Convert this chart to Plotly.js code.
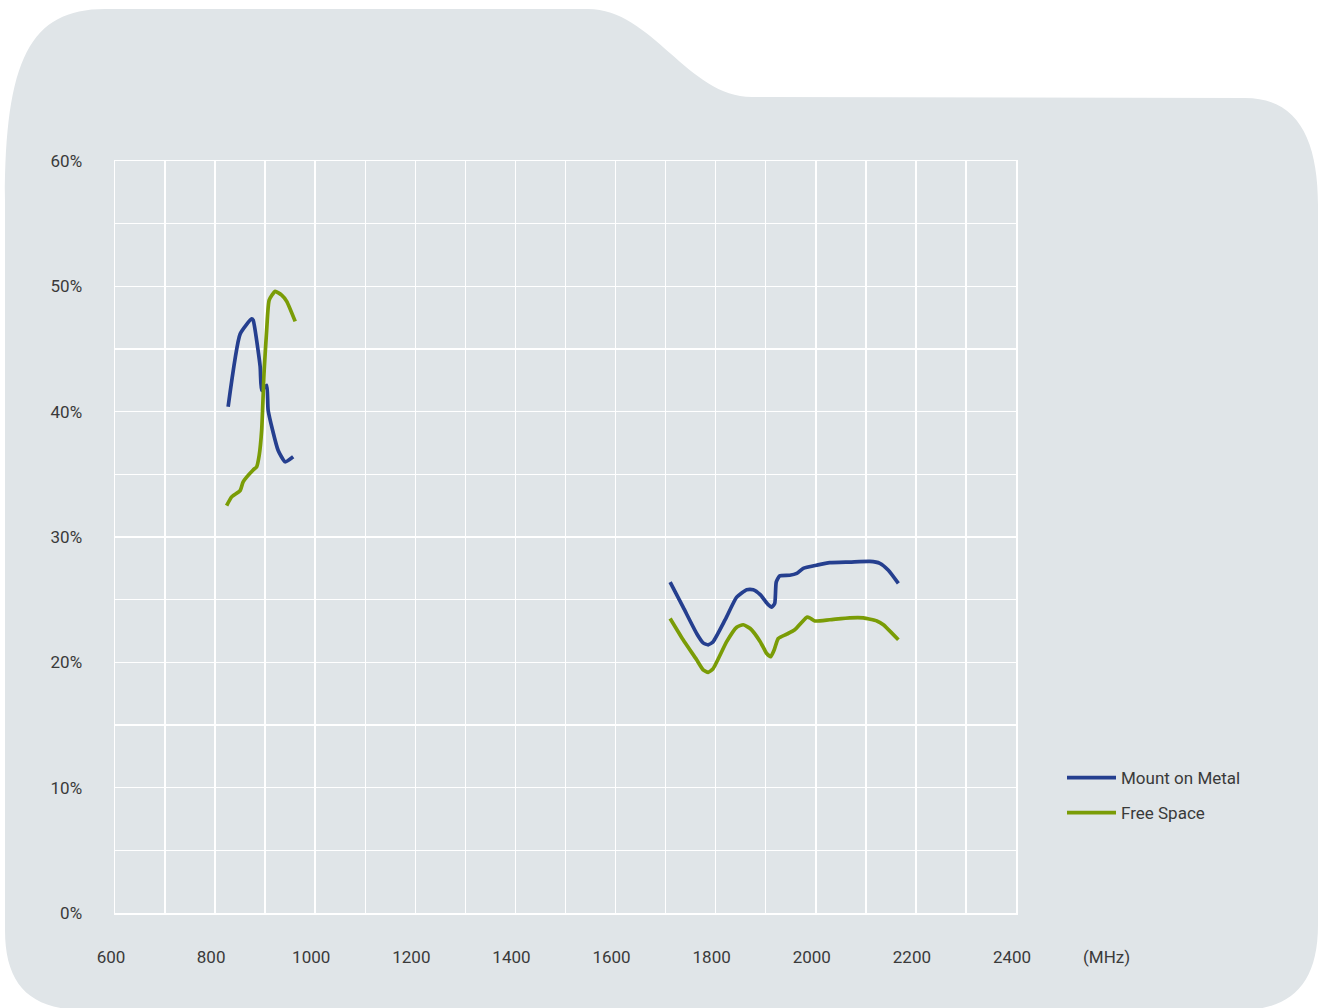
<!DOCTYPE html>
<html>
<head>
<meta charset="utf-8">
<script src="https://cdn.plot.ly/plotly-3.0.1.min.js"></script>
<style>
  html, body { margin: 0; padding: 0; background: #ffffff; }
  #chart { width: 1320px; height: 1008px; }
</style>
</head>
<body>
<div id="chart"></div>
<script>
// ---- Data (frequency in MHz, efficiency in %) ----
const metalLowFreq = [826, 850, 873, 876, 890, 893, 903, 906, 926, 940, 956];
const metalLowEff  = [40.4, 46.2, 47.4, 47.3, 43.6, 41.7, 42.1, 40.1, 36.9, 36.0, 36.4];

const metalHighFreq = [1709, 1735, 1762, 1775, 1785, 1795, 1819, 1842, 1862, 1875, 1889, 1905, 1912, 1918, 1921, 1928, 1948, 1962, 1975, 2002, 2028, 2068, 2108, 2128, 2145, 2165];
const metalHighEff  = [26.4, 24.4, 22.3, 21.55, 21.4, 21.65, 23.4, 25.2, 25.8, 25.8, 25.4, 24.6, 24.4, 24.7, 26.4, 26.9, 26.95, 27.1, 27.5, 27.75, 27.95, 28.0, 28.05, 27.9, 27.35, 26.3];

const freeLowFreq = [823, 833, 850, 856, 876, 883, 888, 893, 898, 903, 908, 920, 933, 943, 960];
const freeLowEff  = [32.5, 33.2, 33.7, 34.4, 35.35, 35.6, 36.5, 38.5, 43.3, 46.5, 48.9, 49.6, 49.3, 48.8, 47.2];

const freeHighFreq = [1709, 1735, 1762, 1775, 1785, 1795, 1822, 1842, 1855, 1869, 1889, 1902, 1910, 1917, 1925, 1942, 1958, 1972, 1982, 1988, 1998, 2028, 2068, 2095, 2122, 2135, 2165];
const freeHighEff  = [23.5, 21.8, 20.2, 19.4, 19.2, 19.5, 21.65, 22.8, 23.0, 22.7, 21.65, 20.7, 20.45, 21.0, 21.9, 22.25, 22.6, 23.2, 23.6, 23.55, 23.3, 23.4, 23.55, 23.55, 23.3, 23.0, 21.8];

const seriesNames = ["Mount on Metal", "Free Space"];
const xTickVals = [600, 800, 1000, 1200, 1400, 1600, 1800, 2000, 2200, 2400];
const xTickText = ["600", "800", "1000", "1200", "1400", "1600", "1800", "2000", "2200", "2400"];
const yTickVals = [0, 10, 20, 30, 40, 50, 60];
const yTickText = ["0%", "10%", "20%", "30%", "40%", "50%", "60%"];
const xUnitLabel = "(MHz)";

// ---- Chart ----
const W = 1320, H = 1008;
const M = { l: 115, r: 304, t: 161, b: 95 };
const PW = W - M.l - M.r, PH = H - M.t - M.b;
function P(px, py) {
  return ((px - M.l) / PW).toFixed(5) + "," + ((H - M.b - py) / PH).toFixed(5);
}
// folder-like background panel (decorative)
const bgPath =
  "M " + P(5, 200) +
  " C " + P(5, 60) + " " + P(30, 9) + " " + P(105, 9) +
  " L " + P(588, 9) +
  " C " + P(652, 9) + " " + P(688, 97) + " " + P(752, 97) +
  " L " + P(1245, 98) +
  " C " + P(1298, 98) + " " + P(1318, 140) + " " + P(1318, 205) +
  " L " + P(1318, 925) +
  " C " + P(1318, 985) + " " + P(1290, 1010) + " " + P(1240, 1010) +
  " L " + P(85, 1010) +
  " C " + P(30, 1010) + " " + P(5, 985) + " " + P(5, 930) + " Z";

const blue = "#253f8f", green = "#7a9c06";
function joinBands(a, b) { return a.concat([null], b); }

const traces = [
  {
    x: joinBands(metalLowFreq, metalHighFreq),
    y: joinBands(metalLowEff, metalHighEff),
    name: seriesNames[0], legendgroup: "a",
    mode: "lines", connectgaps: false,
    line: { color: blue, width: 3.7, shape: "spline", smoothing: 0.5 }
  },
  {
    x: joinBands(freeLowFreq, freeHighFreq),
    y: joinBands(freeLowEff, freeHighEff),
    name: seriesNames[1], legendgroup: "b",
    mode: "lines", connectgaps: false,
    line: { color: green, width: 3.7, shape: "spline", smoothing: 0.5 }
  }
];

const font = { family: "Roboto, 'DejaVu Sans', sans-serif", size: 17, color: "#3a3a3a" };

const layout = {
  width: W, height: H,
  margin: M,
  paper_bgcolor: "#ffffff",
  plot_bgcolor: "rgba(0,0,0,0)",
  font: font,
  showlegend: true,
  legend: {
    x: (1062 - M.l) / PW, y: (H - M.b - 760) / PH,
    xanchor: "left", yanchor: "top",
    bgcolor: "rgba(0,0,0,0)",
    font: font,
    itemwidth: 49,
    traceorder: "grouped", tracegroupgap: 10
  },
  xaxis: {
    range: [600, 2400],
    tickvals: xTickVals, ticktext: xTickText,
    ticks: "outside", ticklen: 28, tickcolor: "rgba(0,0,0,0)",
    ticklabelshift: -4,
    showgrid: true, gridcolor: "#ffffff", gridwidth: 1.5,
    minor: { dtick: 100, showgrid: true, gridcolor: "#ffffff", gridwidth: 1.5 },
    showline: true, linecolor: "#ffffff", linewidth: 1.5, mirror: true,
    zeroline: false, fixedrange: true,
    tickfont: font
  },
  yaxis: {
    range: [0, 60],
    tickvals: yTickVals, ticktext: yTickText,
    ticks: "outside", ticklen: 28, tickcolor: "rgba(0,0,0,0)",
    showgrid: true, gridcolor: "#ffffff", gridwidth: 1.5,
    minor: { dtick: 5, showgrid: true, gridcolor: "#ffffff", gridwidth: 1.5 },
    showline: true, linecolor: "#ffffff", linewidth: 1.5, mirror: true,
    zeroline: false, fixedrange: true,
    tickfont: font
  },
  shapes: [{
    type: "path", xref: "paper", yref: "paper", layer: "below",
    path: bgPath, fillcolor: "#e0e5e8", line: { width: 0 }
  }],
  annotations: [{
    text: xUnitLabel, xref: "paper", yref: "paper",
    x: (1106 - M.l) / PW, y: (H - M.b - 957) / PH,
    xanchor: "center", yanchor: "middle", showarrow: false,
    font: font
  }]
};

Plotly.newPlot("chart", traces, layout, { displayModeBar: false, staticPlot: true });
</script>
</body>
</html>
